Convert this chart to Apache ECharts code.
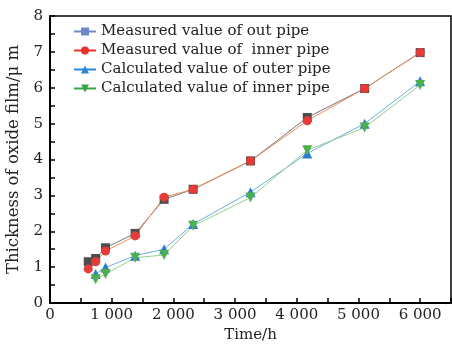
<!DOCTYPE html>
<html>
<head>
<meta charset="utf-8">
<script src="https://cdn.jsdelivr.net/npm/echarts@6/dist/echarts.min.js"></script>
<style>
  html, body { margin: 0; padding: 0; background: #fff; }
  #main { width: 452px; height: 345px; }
</style>
</head>
<body>
<div id="main"></div>
<script>
// time (h)
var hours = [620, 740, 900, 1380, 1850, 2320, 3250, 4170, 5100, 6000];
var measuredOuter = [1.15, 1.24, 1.54, 1.94, 2.89, 3.17, 3.96, 5.17, 5.98, 6.98];
var measuredInner = [0.95, 1.15, 1.45, 1.87, 2.95, 3.17, 3.96, 5.08, 5.98, 6.98];
var calcHours = [740, 900, 1380, 1850, 2320, 3250, 4170, 5100, 6000];
var calcOuter = [0.81, 0.99, 1.32, 1.50, 2.20, 3.09, 4.17, 5.00, 6.18];
var calcInner = [0.66, 0.81, 1.26, 1.34, 2.15, 2.94, 4.26, 4.89, 6.08];
var names = ['Measured value of out pipe', 'Measured value of  inner pipe',
  'Calculated value of outer pipe', 'Calculated value of inner pipe'];

function pairs(xs, ys) {
  return xs.map(function (x, i) { return [x, ys[i]]; });
}

var font = 'DejaVu Serif';
var chart = echarts.init(document.getElementById('main'));
chart.setOption({
  animation: false,
  textStyle: {fontFamily: font},
  grid: {left: 50, right: 1, top: 16, bottom: 42, outerBoundsMode: 'none',
    show: true, borderColor: '#000', borderWidth: 1.5},
  legend: {
    orient: 'vertical', left: 68, top: 19, itemGap: 4, itemWidth: 22, itemHeight: 10,
    textStyle: {fontFamily: font, fontSize: 15, color: '#222'},
    data: [
      {name: names[0], itemStyle: {color: '#7088c8'}, lineStyle: {color: '#7088c8', width: 2}},
      {name: names[1], itemStyle: {color: '#e8302c'}, lineStyle: {color: '#e8302c', width: 2}},
      {name: names[2], itemStyle: {color: '#2a86d8'}, lineStyle: {color: '#2a86d8', width: 2}},
      {name: names[3], itemStyle: {color: '#3aa64a'}, lineStyle: {color: '#3aa64a', width: 2}}
    ]
  },
  xAxis: {
    type: 'value', min: 0, max: 6500, interval: 1000,
    name: 'Time/h', nameLocation: 'middle', nameGap: 25,
    nameTextStyle: {fontFamily: font, fontSize: 15, color: '#222'},
    axisLine: {lineStyle: {color: '#000', width: 2}},
    axisTick: {inside: true, length: 5, lineStyle: {color: '#000', width: 1.5}},
    minorTick: {show: true, splitNumber: 2, length: 5, lineStyle: {color: '#000', width: 1.5}},
    splitLine: {show: false},
    axisLabel: {
      fontFamily: font, fontSize: 15, color: '#222', margin: 5,
      formatter: function (v) {
        if (v % 1000 !== 0) return '';
        return v === 0 ? '0' : (v / 1000) + ' 000';
      }
    }
  },
  yAxis: {
    type: 'value', min: 0, max: 8, interval: 1,
    name: 'Thickness of oxide film/\u03bc m', nameLocation: 'middle', nameGap: 21,
    nameTextStyle: {fontFamily: font, fontSize: 16.5, color: '#222'},
    axisLine: {lineStyle: {color: '#000', width: 2}},
    axisTick: {inside: true, length: 5, lineStyle: {color: '#000', width: 1.5}},
    minorTick: {show: true, splitNumber: 2, length: 5, lineStyle: {color: '#000', width: 1.5}},
    splitLine: {show: false},
    axisLabel: {fontFamily: font, fontSize: 15, color: '#222', margin: 7}
  },
  series: [
    {
      name: names[0], type: 'line', data: pairs(hours, measuredOuter),
      symbol: 'rect', symbolSize: 9,
      itemStyle: {color: '#4e4e4e'}, lineStyle: {color: '#777', width: 1}
    },
    {
      name: names[1], type: 'line', data: pairs(hours, measuredInner),
      symbol: 'circle', symbolSize: 9,
      itemStyle: {color: '#e83a36'}, lineStyle: {color: '#f08a5a', width: 1}
    },
    {
      name: names[2], type: 'line', data: pairs(calcHours, calcOuter),
      symbol: 'triangle', symbolSize: 10,
      itemStyle: {color: '#2a7ed0'}, lineStyle: {color: '#6eaee2', width: 1}
    },
    {
      name: names[3], type: 'line', data: pairs(calcHours, calcInner),
      symbol: 'triangle', symbolRotate: 180, symbolSize: 10,
      itemStyle: {color: '#4caf50'}, lineStyle: {color: '#94cf8e', width: 1}
    }
  ]
});
</script>
</body>
</html>
